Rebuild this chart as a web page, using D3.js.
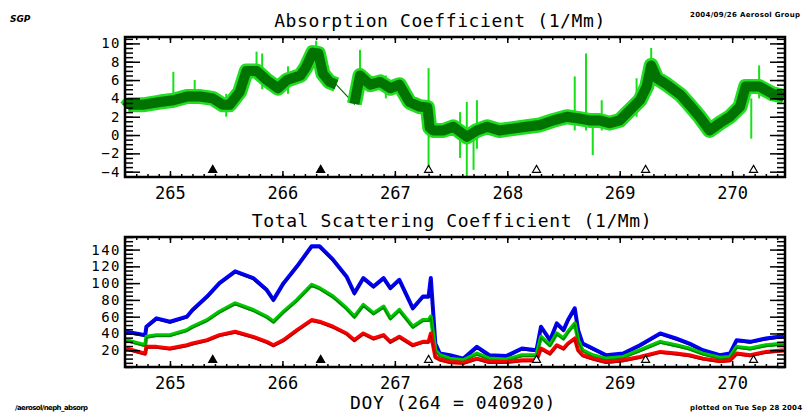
<!DOCTYPE html>
<html>
<head>
  <meta charset="utf-8">
  <script src="https://d3js.org/d3.v7.min.js"></script>
  <style>
    body { margin:0; background:#fff; }
    text { font-family: "DejaVu Sans Mono", monospace; fill:#000; }
    .axis text { font-size: 17px; }
    .yaxis text { font-size: 14px; letter-spacing: 1.5px; }
    .axis line { stroke:#000; stroke-width:1.5px; }
    .axis path { display:none; }
    .title { font-size: 18px; letter-spacing: 0.6px; }
    .tiny { font-family: "DejaVu Sans", sans-serif; font-weight: bold; font-size: 7px; }
  </style>
</head>
<body>
<script>
  // absorption (top panel)
  var absDays = [264.61, 264.63, 264.76, 264.91, 265.03, 265.15, 265.27, 265.38, 265.47, 265.53,
                 265.62, 265.68, 265.77, 265.86, 265.96, 266.04, 266.16, 266.21, 266.27, 266.32,
                 266.36, 266.42, 266.48, 266.56, 266.64, 266.69, 266.78, 266.87, 266.96, 267.04,
                 267.13, 267.22, 267.29, 267.31, 267.34, 267.43, 267.52, 267.64, 267.73, 267.82,
                 267.93, 268.05, 268.17, 268.29, 268.41, 268.53, 268.64, 268.73, 268.82, 268.91,
                 269.00, 269.09, 269.18, 269.24, 269.28, 269.33, 269.42, 269.54, 269.62, 269.71,
                 269.80, 269.89, 269.98, 270.07, 270.12, 270.24, 270.36, 270.46];
  var absValues = [3.0, 3.3, 3.3, 3.6, 3.8, 4.2, 4.2, 4.0, 3.3, 3.3,
                   4.7, 7.0, 7.0, 6.0, 5.1, 6.0, 6.5, 7.4, 9.0, 8.9,
                   6.7, 5.8, 5.5, null, 3.4, 6.5, 5.5, 5.8, 5.1, 5.5,
                   3.6, 3.1, 3.0, 0.8, 0.5, 0.5, 0.9, -0.2, 0.5, 0.9,
                   0.5, 0.7, 0.9, 1.1, 1.6, 2.0, 1.8, 1.6, 1.6, 1.3,
                   1.6, 2.7, 3.8, 5.3, 7.6, 6.2, 5.5, 4.4, 3.3, 2.0,
                   0.5, 1.3, 2.0, 3.1, 5.3, 5.3, 4.5, 4.2];
  // spikes in absorption record
  var spikeDays = [265.03, 265.22, 265.50, 265.77, 265.82, 266.05, 266.30, 266.69, 266.92, 267.30,
                   267.58, 267.64, 267.70, 267.73, 268.60, 268.70, 268.76, 268.84, 269.15, 269.28,
                   270.17, 270.24];
  var spikeLow = [3.0, 3.5, 2.0, 6.0, 5.0, 4.5, 7.0, 4.5, 4.0, -4.2,
                  -2.5, -4.5, -3.8, -1.5, 0.5, 0.5, -2.2, 0.5, 2.0, 6.0,
                  -0.4, 4.0];
  var spikeHigh = [6.9, 6.0, 4.5, 9.1, 8.9, 7.5, 10.3, 9.3, 6.5, 7.3,
                   2.5, 3.6, 1.0, 3.8, 6.4, 8.9, 1.5, 3.8, 6.2, 9.5,
                   4.0, 7.6];

  // total scattering (bottom panel)
  var scatDays = [264.61, 264.78, 264.79, 264.88, 265.00, 265.15, 265.20, 265.33, 265.44, 265.58,
                  265.74, 265.86, 265.92, 266.01, 266.13, 266.26, 266.33, 266.45, 266.57, 266.64,
                  266.72, 266.81, 266.90, 266.96, 267.04, 267.16, 267.25, 267.30, 267.32, 267.36,
                  267.40, 267.49, 267.61, 267.73, 267.84, 267.99, 268.13, 268.26, 268.30, 268.38,
                  268.44, 268.50, 268.54, 268.60, 268.63, 268.67, 268.76, 268.88, 269.03, 269.18,
                  269.36, 269.50, 269.62, 269.74, 269.89, 269.98, 270.04, 270.16, 270.30, 270.46];
  var scatBlue = [42, 38, 48, 58, 54, 60, 68, 84, 100, 114,
                  106, 92, 80, 100, 120, 144, 144, 128, 108, 88,
                  106, 96, 106, 94, 104, 70, 84, 84, 106, 28,
                  16, 14, 10, 24, 14, 13, 22, 20, 48, 32,
                  52, 44, 56, 70, 44, 28, 22, 14, 16, 26,
                  40, 34, 28, 20, 14, 16, 32, 30, 34, 37];
  var scatGreen = [32, 26, 36, 38, 38, 44, 48, 56, 66, 76,
                   68, 60, 54, 66, 80, 98, 94, 84, 70, 60,
                   74, 64, 72, 58, 68, 48, 56, 56, 60, 20,
                   14, 10, 8, 16, 10, 9, 14, 14, 36, 26,
                   40, 34, 42, 52, 32, 20, 14, 10, 12, 20,
                   30, 26, 22, 16, 11, 12, 24, 22, 26, 28];
  var scatRed = [22, 16, 24, 24, 22, 26, 28, 32, 38, 42,
                 36, 30, 26, 32, 44, 56, 54, 48, 40, 32,
                 40, 34, 38, 30, 36, 26, 30, 30, 40, 12,
                 9, 6, 5, 10, 6, 6, 8, 8, 22, 16,
                 26, 22, 28, 34, 20, 14, 10, 6, 8, 12,
                 18, 16, 14, 10, 7, 8, 16, 14, 18, 20];

  var markerDays = [265.38, 266.34, 267.30, 268.26, 269.23, 270.19];
  var markerFilled = [true, true, false, false, false, false];

  var dayTicks = [265, 266, 267, 268, 269, 270];
  var absTicks = [-4, -2, 0, 2, 4, 6, 8, 10];
  var scatTicks = [20, 40, 60, 80, 100, 120, 140];

  var width = 803, height = 413;
  var svg = d3.select("body").append("svg")
      .attr("width", width)
      .attr("height", height);

  var x = d3.scaleLinear().domain([264.6, 270.47]).range([125, 785]);
  var yAbs = d3.scaleLinear().domain([-4.58, 10.7]).range([177, 37]);
  var yScat = d3.scaleLinear().domain([0, 155]).range([367, 237]);

  function minorTicks(lo, hi, step) {
    var out = [];
    for (var v = Math.ceil(lo / step) * step; v <= hi + 1e-9; v += step) out.push(+v.toFixed(4));
    return out;
  }

  // ticks only, no labels
  function bare(g, axis) {
    g.call(axis);
    g.selectAll("text").remove();
  }

  function drawPanel(y, yTicks, minorStep) {
    var top = y.range()[1], bottom = y.range()[0];
    var xMinor = minorTicks(x.domain()[0], x.domain()[1], 0.1);
    var yMinor = minorTicks(y.domain()[0], y.domain()[1], minorStep);

    // x axes (ticks point inward)
    bare(svg.append("g").attr("class", "axis").attr("transform", "translate(0," + bottom + ")"),
         d3.axisBottom(x).tickValues(xMinor).tickSize(-3));
    svg.append("g").attr("class", "axis")
        .attr("transform", "translate(0," + bottom + ")")
        .call(d3.axisBottom(x).tickValues(dayTicks).tickSize(-6).tickPadding(10).tickFormat(d3.format("d")));
    bare(svg.append("g").attr("class", "axis").attr("transform", "translate(0," + top + ")"),
         d3.axisTop(x).tickValues(xMinor).tickSize(-3));
    bare(svg.append("g").attr("class", "axis").attr("transform", "translate(0," + top + ")"),
         d3.axisTop(x).tickValues(dayTicks).tickSize(-6));

    // y axes
    bare(svg.append("g").attr("class", "axis").attr("transform", "translate(125,0)"),
         d3.axisLeft(y).tickValues(yMinor).tickSize(-8));
    svg.append("g").attr("class", "axis yaxis")
        .attr("transform", "translate(125,0)")
        .call(d3.axisLeft(y).tickValues(yTicks).tickSize(-15).tickPadding(4)
              .tickFormat(function(d) { return String(d).replace("-", "\u2212"); }));
    bare(svg.append("g").attr("class", "axis").attr("transform", "translate(785,0)"),
         d3.axisRight(y).tickValues(yMinor).tickSize(-8));
    bare(svg.append("g").attr("class", "axis").attr("transform", "translate(785,0)"),
         d3.axisRight(y).tickValues(yTicks).tickSize(-15));

    svg.append("rect")
        .attr("x", 125).attr("y", top)
        .attr("width", 660).attr("height", bottom - top)
        .attr("fill", "none").attr("stroke", "#000").attr("stroke-width", 2.5);

    // day markers
    var tri = d3.symbol().type(d3.symbolTriangle).size(28);
    svg.selectAll(null)
        .data(markerDays)
        .enter().append("path")
        .attr("d", tri)
        .attr("transform", function(d) { return "translate(" + x(d) + "," + (bottom - 7) + ")"; })
        .attr("fill", function(d, i) { return markerFilled[i] ? "#000" : "#fff"; })
        .attr("stroke", "#000")
        .attr("stroke-width", 1.2);
  }

  // ---- top panel: absorption ----
  var absData = absDays.map(function(d, i) { return {day: d, v: absValues[i]}; });
  var absLine = d3.line()
      .defined(function(d) { return d.v !== null; })
      .x(function(d) { return x(d.day); })
      .y(function(d) { return yAbs(d.v); });

  svg.append("path")
      .attr("d", absLine(absData.filter(function(d) { return d.v !== null; })))
      .attr("fill", "none").attr("stroke", "#007000").attr("stroke-width", 1.2);

  svg.selectAll(".spike")
      .data(spikeDays)
      .enter().append("line")
      .attr("class", "spike")
      .attr("x1", function(d) { return x(d); })
      .attr("x2", function(d) { return x(d); })
      .attr("y1", function(d, i) { return yAbs(spikeLow[i]); })
      .attr("y2", function(d, i) { return yAbs(spikeHigh[i]); })
      .attr("stroke", "#18e018").attr("stroke-width", 2);

  svg.append("path")
      .attr("d", absLine(absData))
      .attr("fill", "none").attr("stroke", "#22dd22")
      .attr("stroke-width", 15).attr("stroke-linejoin", "round").attr("stroke-linecap", "butt");
  svg.append("path")
      .attr("d", absLine(absData))
      .attr("fill", "none").attr("stroke", "#007300")
      .attr("stroke-width", 10).attr("stroke-linejoin", "round").attr("stroke-linecap", "butt");

  drawPanel(yAbs, absTicks, 0.5);

  // ---- bottom panel: total scattering ----
  var scatSeries = [
    {values: scatBlue, bright: "#0000ff", dark: "#0000a8"},
    {values: scatGreen, bright: "#00c800", dark: "#008400"},
    {values: scatRed, bright: "#ff0000", dark: "#b80000"}
  ];
  var scatLine = d3.line()
      .x(function(d) { return x(d[0]); })
      .y(function(d) { return yScat(d[1]); });

  scatSeries.forEach(function(s) {
    var pts = scatDays.map(function(d, i) { return [d, s.values[i]]; });
    svg.append("path")
        .attr("d", scatLine(pts))
        .attr("fill", "none").attr("stroke", s.bright).attr("stroke-width", 4)
        .attr("stroke-linejoin", "round");
    svg.append("path")
        .attr("d", scatLine(pts))
        .attr("fill", "none").attr("stroke", s.dark).attr("stroke-width", 1.3)
        .attr("transform", "translate(0,1.3)");
  });

  drawPanel(yScat, scatTicks, 5);

  // ---- titles ----
  svg.append("text").attr("class", "title")
      .attr("x", 440).attr("y", 27).attr("text-anchor", "middle")
      .text("Absorption Coefficient (1/Mm)");
  svg.append("text").attr("class", "title")
      .attr("x", 452).attr("y", 227).attr("text-anchor", "middle")
      .text("Total Scattering Coefficient (1/Mm)");
  svg.append("text").attr("class", "title")
      .attr("x", 453).attr("y", 409).attr("text-anchor", "middle")
      .text("DOY (264 = 040920)");

  // corner stamps
  svg.append("text").attr("class", "tiny").attr("x", 10).attr("y", 22)
      .attr("font-style", "italic").style("font-size", "9px").text("SGP");
  svg.append("text").attr("class", "tiny").attr("x", 690).attr("y", 17)
      .attr("textLength", 110).text("2004/09/26 Aerosol Group");
  svg.append("text").attr("class", "tiny").attr("x", 15).attr("y", 410)
      .attr("textLength", 73).text("/aerosol/neph_absorp");
  svg.append("text").attr("class", "tiny").attr("x", 690).attr("y", 410)
      .attr("textLength", 112).text("plotted on Tue Sep 28 2004");
</script>
</body>
</html>
